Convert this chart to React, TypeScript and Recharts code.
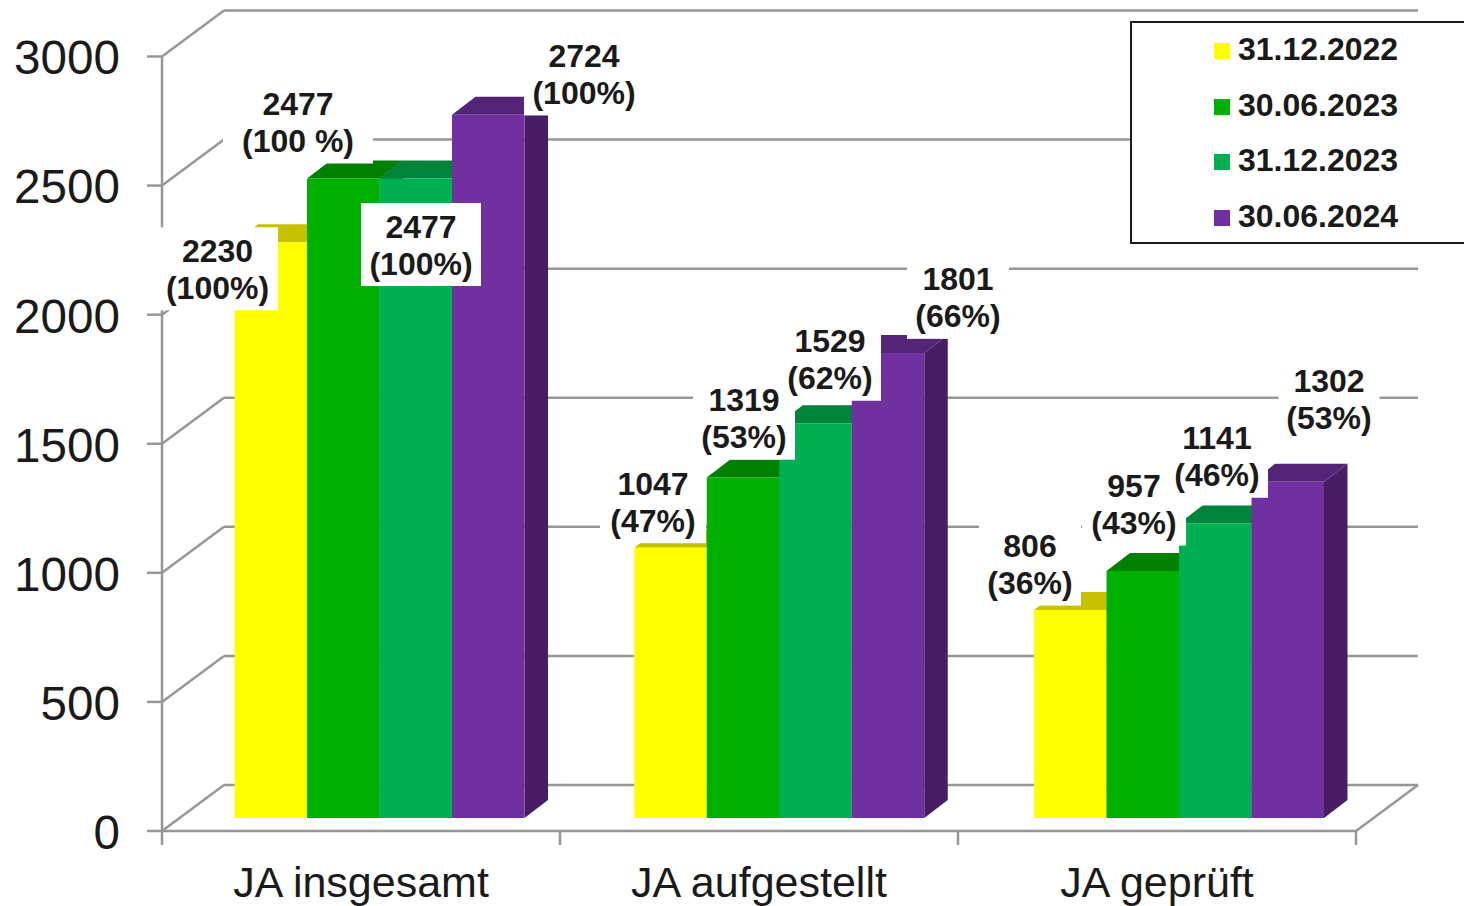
import React from 'react';
import {
  ComposedChart,
  CartesianGrid,
  XAxis,
  YAxis,
  Bar,
  Line,
  LabelList,
  Legend,
} from 'recharts';

const categories = ['JA insgesamt', 'JA aufgestellt', 'JA geprüft'];
const seriesNames = ['31.12.2022', '30.06.2023', '31.12.2023', '30.06.2024'];
const values2022 = [2230, 1047, 806];
const valuesJun2023 = [2477, 1319, 957];
const valuesDec2023 = [2477, 1529, 1141];
const values2024 = [2724, 1801, 1302];
const percents2022 = ['(100%)', '(47%)', '(36%)'];
const percentsJun2023 = ['(100 %)', '(53%)', '(43%)'];
const percentsDec2023 = ['(100%)', '(62%)', '(46%)'];
const percents2024 = ['(100%)', '(66%)', '(53%)'];
const yTicks = [0, 500, 1000, 1500, 2000, 2500, 3000];

const allValues = [values2022, valuesJun2023, valuesDec2023, values2024];
const allPercents = [percents2022, percentsJun2023, percentsDec2023, percents2024];

// front, top and side face of each series
const faces = [
  { front: '#FFFF00', top: '#C6C200', side: '#A8A500' },
  { front: '#00B000', top: '#008000', side: '#006E00' },
  { front: '#00B050', top: '#00843C', side: '#006B30' },
  { front: '#7030A0', top: '#542479', side: '#471E64' },
];

// where each label box sits relative to its point: [dx, dy, box width], per series and category
const labelPlacement = [
  [[-143.5, 14.5, 121], [-106, -58, 106], [-127, -57.8, 102]],
  [[-63, -68.5, 150], [-15, -71.3, 102], [-23, -78.8, 104]],
  [[60, 54, 120], [71, -76, 102], [60, -79.2, 102]],
  [[223, -52.8, 120], [199, -67.7, 102], [172, -94.6, 101]],
];

const chartData = categories.map((name, i) => {
  const row: Record<string, string | number> = { name };
  seriesNames.forEach((s, k) => {
    row[s] = allValues[k][i];
  });
  return row;
});

const FONT = '"Liberation Sans", Arial, sans-serif';
const AXIS_GREY = '#979797';
const TEXT = '#1a1a1a';
const LINE_W = 2.5;

// perspective of the walls and bars
const WALL_DX = 62;
const WALL_DY = 46;
const DEPTH_DX = 23.5;
const DEPTH_DY = 18;
const BAR_SHIFT_Y = 13;

const Bar3D = (props) => {
  const { x, y, width, height, index, seriesIndex } = props;
  const f = faces[seriesIndex];
  const sx = x + 18.5 + index * 1.75;
  const top = y - BAR_SHIFT_Y;
  const right = sx + width;
  const bottom = top + height;
  return (
    <g>
      <polygon
        points={`${right},${top} ${right + DEPTH_DX},${top - DEPTH_DY} ${right + DEPTH_DX},${bottom - DEPTH_DY} ${right},${bottom}`}
        fill={f.side}
      />
      <polygon
        points={`${sx},${top} ${sx + DEPTH_DX},${top - DEPTH_DY} ${right + DEPTH_DX},${top - DEPTH_DY} ${right},${top}`}
        fill={f.top}
      />
      <rect x={sx} y={top} width={width} height={height} fill={f.front} />
    </g>
  );
};

const WallLine = (props) => {
  const { x1, x2, y1, index } = props;
  const isFloor = y1 > 800;
  return (
    <g key={`wall-${index}`} stroke={AXIS_GREY} fill="none">
      <line x1={x1} y1={y1} x2={x1 + WALL_DX} y2={y1 - WALL_DY} strokeWidth={LINE_W} />
      <line
        x1={x1 + WALL_DX}
        y1={y1 - WALL_DY}
        x2={x2 + WALL_DX}
        y2={y1 - WALL_DY}
        strokeWidth={LINE_W}
      />
      {isFloor && (
        <line x1={x2} y1={y1} x2={x2 + WALL_DX} y2={y1 - WALL_DY} strokeWidth={LINE_W} />
      )}
    </g>
  );
};

const CategoryTick = (props) => {
  const { x, y, payload, index } = props;
  const half = 199;
  return (
    <g>
      {index === 0 && (
        <line x1={x - half} y1={y} x2={x - half} y2={y + 14} stroke={AXIS_GREY} strokeWidth={LINE_W} />
      )}
      <line x1={x + half} y1={y} x2={x + half} y2={y + 14} stroke={AXIS_GREY} strokeWidth={LINE_W} />
      <text
        x={x}
        y={y + 66}
        textAnchor="middle"
        fontSize={43}
        fontFamily={FONT}
        fill={TEXT}
      >
        {payload.value}
      </text>
    </g>
  );
};

const makeLabel = (seriesIndex) => (props) => {
  const { x, y, index } = props;
  const [dx, dy, boxWidth] = labelPlacement[seriesIndex][index];
  const cx = x + dx;
  const cy = y + dy - 0.5;
  return (
    <g>
      <rect x={cx - boxWidth / 2} y={cy - 42} width={boxWidth} height={83} fill="#ffffff" />
      <text
        textAnchor="middle"
        fontSize={32}
        fontWeight="bold"
        fontFamily={FONT}
        fill={TEXT}
      >
        <tspan x={cx} y={cy - 7.5}>
          {allValues[seriesIndex][index]}
        </tspan>
        <tspan x={cx} y={cy + 29.5}>
          {allPercents[seriesIndex][index]}
        </tspan>
      </text>
    </g>
  );
};

const LegendBox = () => (
  <div
    style={{
      position: 'relative',
      width: 334,
      height: 223,
      boxSizing: 'border-box',
      border: '2px solid #1a1a1a',
      borderRight: 'none',
      background: '#ffffff',
      fontFamily: FONT,
      fontWeight: 'bold',
      fontSize: 32,
      color: TEXT,
    }}
  >
    {seriesNames.map((name, i) => (
      <div
        key={name}
        style={{
          position: 'absolute',
          left: 82,
          top: 6 + i * 55.6,
          height: 40,
          lineHeight: '40px',
          whiteSpace: 'nowrap',
        }}
      >
        <span
          style={{
            display: 'inline-block',
            position: 'relative',
            top: -1,
            width: 16,
            height: 16,
            marginRight: 8,
            background: faces[i].front,
          }}
        />
        {name}
      </div>
    ))}
  </div>
);

const App = () => (
  <div style={{ position: 'absolute', left: 0, top: 0, width: 1464, height: 906, overflow: 'hidden' }}>
    <ComposedChart
      width={1464}
      height={906}
      data={chartData}
      margin={{ top: 56.5, right: 108, bottom: 0, left: 0 }}
      barGap={0}
      barSize={72.5}
    >
      <CartesianGrid horizontal={WallLine} vertical={false} />
      <XAxis
        dataKey="name"
        height={75}
        interval={0}
        axisLine={{ stroke: AXIS_GREY, strokeWidth: LINE_W }}
        tickLine={false}
        tickSize={0}
        tickMargin={0}
        tick={CategoryTick}
      />
      <YAxis
        width={162}
        domain={[0, 3000]}
        ticks={yTicks}
        interval={0}
        axisLine={{ stroke: AXIS_GREY, strokeWidth: LINE_W }}
        tickLine={{ stroke: AXIS_GREY, strokeWidth: LINE_W }}
        tickSize={15}
        tickMargin={27}
        tick={{ fontSize: 47.6, fontFamily: FONT, fill: TEXT, dy: 1 }}
      />
      <Legend
        layout="vertical"
        align="center"
        verticalAlign="middle"
        content={LegendBox}
        wrapperStyle={{ left: 1130, top: 21, width: 334, height: 223 }}
      />
      {seriesNames.map((name, i) => (
        <Bar
          key={name}
          dataKey={name}
          fill={faces[i].front}
          isAnimationActive={false}
          shape={(p) => <Bar3D {...p} seriesIndex={i} />}
        />
      ))}
      {seriesNames.map((name, i) => (
        <Line
          key={`label-${name}`}
          dataKey={name}
          stroke="none"
          dot={false}
          activeDot={false}
          legendType="none"
          isAnimationActive={false}
        >
          <LabelList content={makeLabel(i)} />
        </Line>
      ))}
    </ComposedChart>
  </div>
);

export default App;
